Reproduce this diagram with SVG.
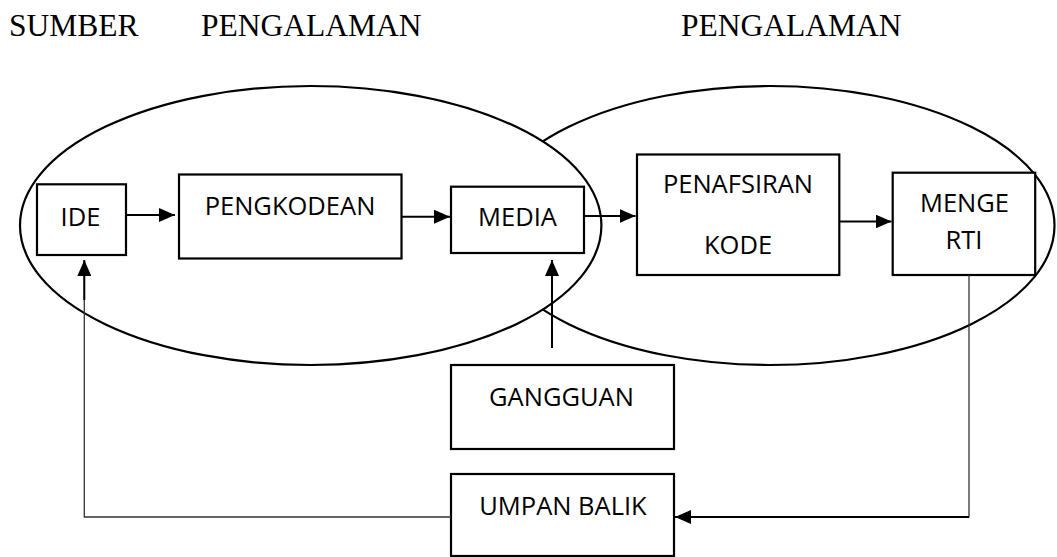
<svg xmlns="http://www.w3.org/2000/svg" width="1057" height="557" viewBox="0 0 1057 557">
<defs>
<style>
.title{font-family:"Liberation Serif","Times New Roman",serif;font-size:31.5px;fill:#000}
.lbl{font-family:"Open Sans","Noto Sans",sans-serif;font-size:25.5px;fill:#000;text-anchor:middle}
.box{fill:#fff;stroke:#000;stroke-width:2.2}
.ell{fill:#fff;stroke:#000;stroke-width:2.2}
.conn{fill:none;stroke:#000;stroke-width:2}
.thin{fill:none;stroke:#333;stroke-width:1.3}
</style>
<marker id="ah" viewBox="0 0 16 14" refX="16" refY="7" markerWidth="16" markerHeight="14" markerUnits="userSpaceOnUse" orient="auto">
<path d="M0,0 L16,7 L0,14 Z" fill="#000"/>
</marker>
</defs>
<rect width="1057" height="557" fill="#fff"/>
<g id="titles">
<text class="title" x="9" y="36">SUMBER</text>
<text class="title" x="201" y="36">PENGALAMAN</text>
<text class="title" x="681" y="36">PENGALAMAN</text>
</g>
<g id="ellipse-receiver"><ellipse class="ell" cx="770" cy="225.5" rx="284.5" ry="139.5"/></g>
<g id="ellipse-source"><ellipse class="ell" cx="310.7" cy="225.5" rx="290.7" ry="139.5"/></g>
<g id="node-ide"><rect class="box" x="37" y="184.3" width="89" height="70.7"/><text class="lbl" x="80.5" y="226">IDE</text></g>
<g id="node-pengkodean"><rect class="box" x="179" y="174.5" width="222.5" height="84"/><text class="lbl" x="290" y="215">PENGKODEAN</text></g>
<g id="node-media"><rect class="box" x="451" y="186.7" width="133" height="66.3"/><text class="lbl" x="517.5" y="226">MEDIA</text></g>
<g id="node-penafsiran"><rect class="box" x="637" y="154.5" width="202.3" height="120.5"/><text class="lbl" x="738" y="193">PENAFSIRAN</text><text class="lbl" x="738" y="254">KODE</text></g>
<g id="node-mengerti"><rect class="box" x="892.7" y="172.7" width="142.5" height="102.3"/><text class="lbl" x="964.5" y="212">MENGE</text><text class="lbl" x="964" y="249">RTI</text></g>
<g id="node-gangguan"><rect class="box" x="451" y="365" width="223" height="84"/><text class="lbl" x="561.5" y="406">GANGGUAN</text></g>
<g id="node-umpan-balik"><rect class="box" x="451" y="474" width="223" height="82"/><text class="lbl" x="563" y="515">UMPAN BALIK</text></g>
<g id="connectors">
<path class="conn" d="M126,215 H175" marker-end="url(#ah)"/>
<path class="conn" d="M401.5,216.7 H450" marker-end="url(#ah)"/>
<path class="conn" d="M584,216 H635.5" marker-end="url(#ah)"/>
<path class="conn" d="M839.3,221.5 H891.5" marker-end="url(#ah)"/>
<path class="conn" d="M552,348 V260" marker-end="url(#ah)"/>
<path class="thin" d="M969,275 V517.5"/>
<path class="conn" d="M969,517 H675" marker-end="url(#ah)"/>
<path class="thin" d="M451,517 H84.3 V261"/>
<path class="conn" d="M84.3,300 V260" marker-end="url(#ah)"/>
</g>
</svg>
